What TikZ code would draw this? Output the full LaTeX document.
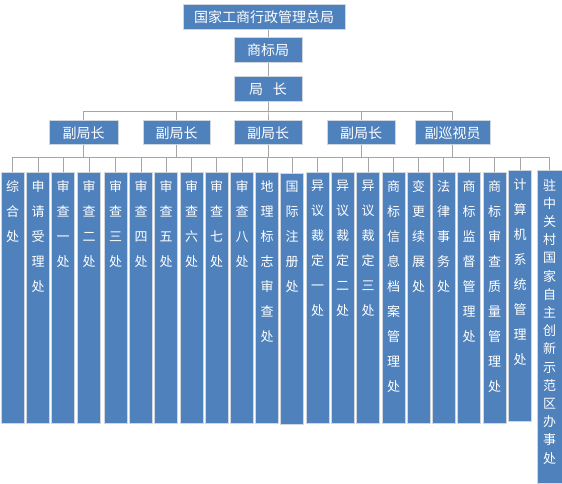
\documentclass[tikz,border=0pt]{standalone}
\usepackage{fontspec}
\newfontfamily\cjk{Noto Sans CJK SC}
\XeTeXlinebreaklocale "zh"
\XeTeXlinebreakskip=0pt plus 1pt
\definecolor{boxblue}{RGB}{79,129,189}
\definecolor{boxrim}{RGB}{208,214,224}
\definecolor{linkgray}{RGB}{165,165,165}
\begin{document}
\begin{tikzpicture}[x=1pt,y=1pt,
    org/.style={draw=boxrim,line width=1pt,fill=boxblue,text=white,inner sep=0pt,minimum height=25,font=\cjk\fontsize{14}{16}\selectfont},
    unit/.style={draw=boxrim,line width=0.8pt,fill=boxblue,inner sep=0pt,minimum width=23,anchor=north},
    unittext/.style={text=white,inner sep=0pt,text width=14pt,align=center,anchor=north,font=\cjk\fontsize{13}{25}\selectfont},
    link/.style={draw=linkgray,line width=0.8pt}]
    \useasboundingbox (0,0) rectangle (562,-484);
    % top of the chart
    \node[org,minimum width=162] (gj) at (264,-17) {国家工商行政管理总局};
    \node[org,minimum width=68] (sb) at (268,-50) {商标局};
    \node[org,minimum width=68] (jz) at (268,-89) {局\hspace{10pt}长};
    \node[org,minimum width=69,minimum height=24] (d1) at (83.5,-133) {副局长};
    \node[org,minimum width=67,minimum height=24] (d2) at (176.5,-133) {副局长};
    \node[org,minimum width=68,minimum height=24] (d3) at (268,-133) {副局长};
    \node[org,minimum width=68,minimum height=24] (d4) at (361,-133) {副局长};
    \node[org,minimum width=75,minimum height=24] (d5) at (452.5,-133) {副巡视员};
    % offices
    \foreach \x/\y/\t [count=\i] in {12.5/172/综合处, 38/172/申请受理处, 63/172/审查一处, 89/172/审查二处,
        115.5/172/审查三处, 141/172/审查四处, 166/172/审查五处, 191.5/172/审查六处, 216.5/172/审查七处,
        242/172/审查八处, 267/172/地理标志审查处, 292/173/国际注册处, 317.5/172/异议裁定一处,
        342.5/172/异议裁定二处, 368/172/异议裁定三处, 393.5/172/商标信息档案管理处, 418.5/172/变更续展处,
        443.5/172/法律事务处, 469/172/商标监督管理处, 494.5/172/商标审查质量管理处, 520/170/计算机系统管理处}
    {
        \node[unit,minimum height=251] (u\i) at (\x,-\y) {};
        \node[unittext] at ([yshift=-8]u\i.north) {\t};
    }
    \node[unit,minimum width=25,minimum height=313] (u22) at (549.5,-170) {};
    \node[unittext,font=\cjk\fontsize{13}{18.2}\selectfont] at ([yshift=-9]u22.north) {驻中关村国家自主创新示范区办事处};
    % connectors
    \draw[link] (sb.north) -- (sb.north |- gj.south);
    \draw[link] (sb) -- (jz);
    \foreach \i in {1,...,5}
    \draw[link] (jz.south) -- ++(0,-9) -| (d\i.north);
    \coordinate (bus) at (0,-157);
    \draw[link] (u1.north |- bus) -- (u22.north |- bus);
    \foreach \i in {1,...,5}
    \draw[link] (d\i.south) -- (d\i.south |- bus);
    \foreach \i in {1,...,22}
    \draw[link] (u\i.north) -- (u\i.north |- bus);
\end{tikzpicture}
\end{document}
